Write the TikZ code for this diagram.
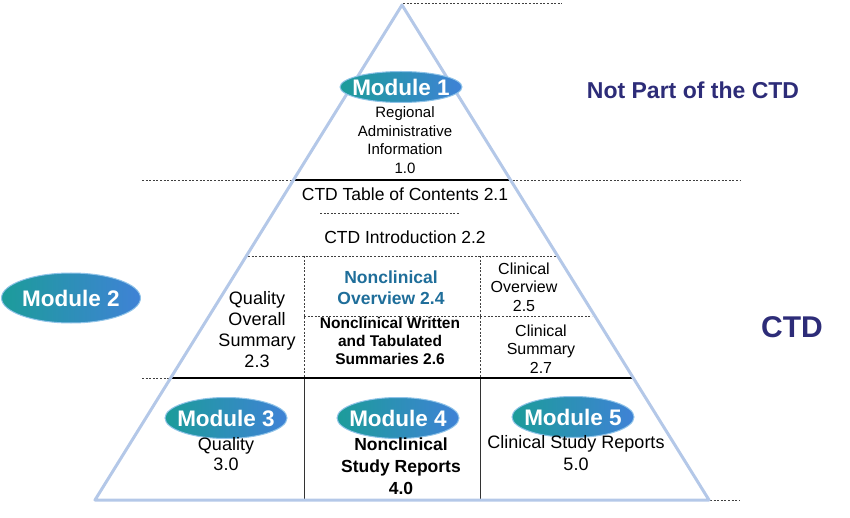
\documentclass[tikz,border=0pt]{standalone}
\usepackage{fontspec}
\setmainfont{Liberation Sans}
\usetikzlibrary{shapes.geometric}
\definecolor{ctdteal}{HTML}{1C9C9A}
\definecolor{ctdblue}{HTML}{3F82D6}
\definecolor{ctdrim}{HTML}{8FC3E8}
\definecolor{ctdedge}{HTML}{B4C8E8}
\definecolor{ctdnavy}{HTML}{2D2C78}
\definecolor{ctdtext}{HTML}{1F6E9A}
\tikzset{
  module/.style={ellipse,left color=ctdteal,right color=ctdblue,draw=ctdrim,line width=1pt,
    minimum width=122pt,minimum height=31pt,inner xsep=-6pt,inner ysep=0pt,text=white,
    font=\bfseries\fontsize{22.5}{22.5}\selectfont},
  sect/.style={align=center,font=\fontsize{15}{18.5}\selectfont},
  dsh/.style={draw=black!75,line width=0.6pt,dash pattern=on 2pt off 1.6pt},
}
\begin{document}
\begin{tikzpicture}[x=1pt,y=-1pt]
\useasboundingbox (0,0) rectangle (850,518);
% dashed guides
\draw[dsh] (403,3)--(562,3);
\draw[dsh] (142,180)--(740,180);
\draw[dsh] (320,213)--(460,213);
\draw[dsh] (248,256)--(556,256);
\draw[dsh] (304,316)--(592,316);
\draw[dsh] (142,378)--(172,378);
\draw[dsh] (710,500)--(740,500);
\foreach \x in {304,480}
  \draw[dsh] (\x,256)--(\x,378);
\foreach \x in {304,480}
  \draw[black!80,line width=0.6pt] (\x,378)--(\x,500);
% black bands
\draw[line width=2.2pt] (293,180)--(511,180);
\draw[line width=2.2pt] (172,378)--(632,378);
% pyramid
\coordinate (apex) at (402,5);
\coordinate (bl) at (95,500);
\coordinate (br) at (709,500);
\draw[ctdedge,line width=3pt,line join=round] (apex)--(bl)--(br)--cycle;
% modules
\node[module] (m1) at (401,87) {Module 1};
\node[module,minimum width=139pt,minimum height=50pt,inner xsep=0pt] (m2) at (71,298) {Module 2};
\node[module,minimum height=41pt] (m3) at (226,418) {Module 3};
\node[module,minimum height=41pt] (m4) at (398,418) {Module 4};
\node[module,minimum height=41pt] (m5) at (573,417) {Module 5};
% texts
\node[sect] (reg) at (405,140) {Regional\\Administrative\\Information\\1.0};
\node[sect,font=\fontsize{17.5}{20}\selectfont] (toc) at (405,194) {CTD Table of Contents 2.1};
\node[sect,font=\fontsize{17.5}{20}\selectfont] (intro) at (405,237) {CTD Introduction 2.2};
\node[sect,font=\fontsize{18}{21}\selectfont] (qos) at (257,330) {Quality\\Overall\\Summary\\2.3};
\node[sect,text=ctdtext,font=\bfseries\fontsize{17.5}{21}\selectfont] (nco) at (391,288) {Nonclinical\\Overview 2.4};
\node[sect,font=\bfseries\fontsize{15.5}{18}\selectfont] (ncw) at (390,341) {Nonclinical Written\\and Tabulated\\Summaries 2.6};
\node[sect,font=\fontsize{16}{18.5}\selectfont] (co) at (524,287) {Clinical\\Overview\\2.5};
\node[sect,font=\fontsize{16}{18.5}\selectfont] (cs) at (541,349) {Clinical\\Summary\\2.7};
\node[sect,font=\fontsize{18}{20}\selectfont] (q3) at (226,454) {Quality\\3.0};
\node[sect,font=\bfseries\fontsize{17.5}{22}\selectfont] (ns4) at (401,466) {Nonclinical\\Study Reports\\4.0};
\node[sect,font=\fontsize{18}{22}\selectfont] (cs5) at (576,453) {Clinical Study Reports\\5.0};
\node[text=ctdnavy,font=\bfseries\fontsize{23}{26}\selectfont] (npc) at (693,90) {Not Part of the CTD};
\node[text=ctdnavy,font=\bfseries\fontsize{30}{32}\selectfont] (ctd) at (792,327) {CTD};
\end{tikzpicture}
\end{document}
